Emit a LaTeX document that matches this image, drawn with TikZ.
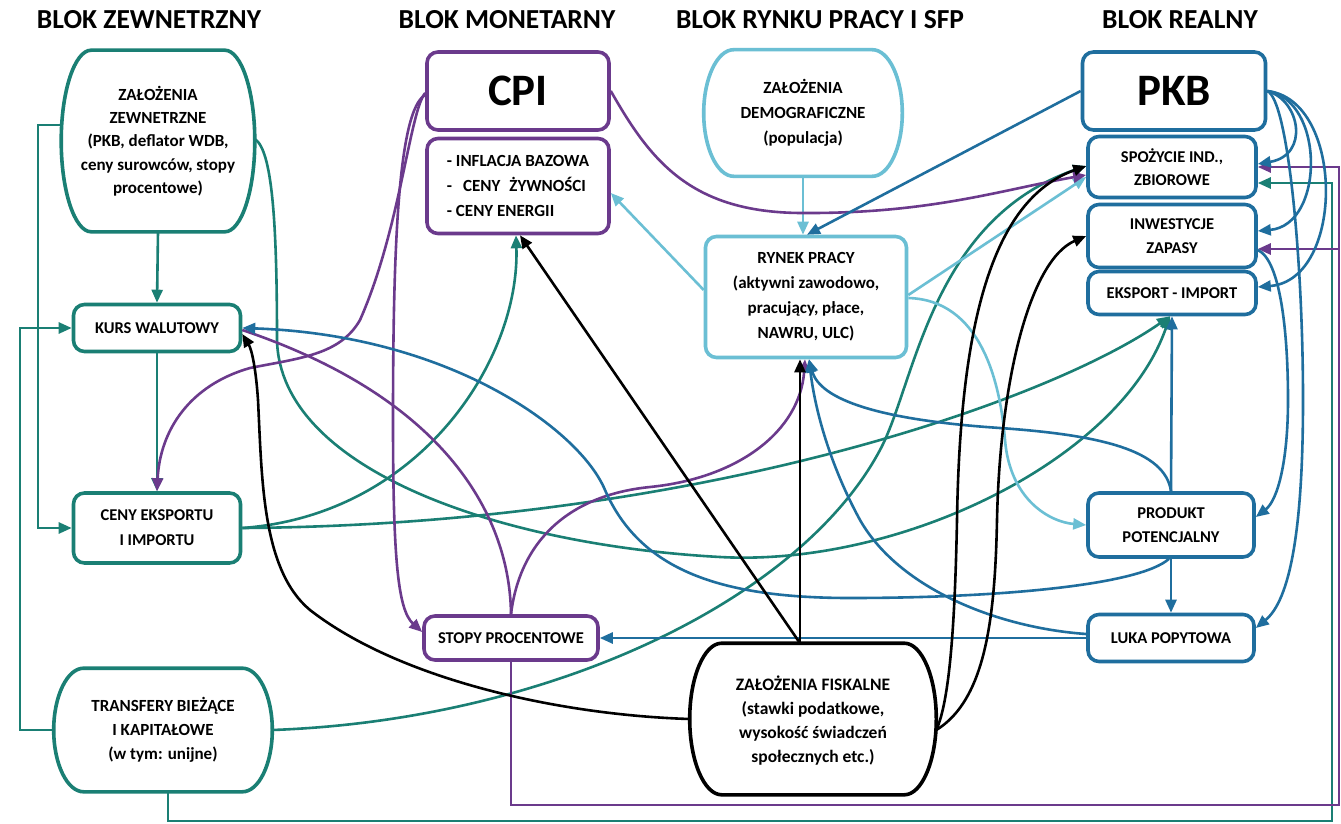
\documentclass[tikz,border=0pt]{standalone}
\usepackage{fontspec}
\setmainfont{Carlito}
\usetikzlibrary{arrows.meta,calc}
\definecolor{cteal}{HTML}{1A7F74}
\definecolor{cpurp}{HTML}{6B3A8C}
\definecolor{clight}{HTML}{6BBFD4}
\definecolor{cblue}{HTML}{1F6E9E}
\newcommand{\stadiumpath}[2]{%
 (#1.north) -- ($(#1.north east)+(-#2,0)$) .. controls ($(#1.north east)+(-0.45*#2,0)$) and ($(#1.east)!0.55!(#1.north east)$) .. (#1.east)
 .. controls ($(#1.east)!0.55!(#1.south east)$) and ($(#1.south east)+(-0.45*#2,0)$) .. ($(#1.south east)+(-#2,0)$)
 -- ($(#1.south west)+(#2,0)$) .. controls ($(#1.south west)+(0.45*#2,0)$) and ($(#1.west)!0.55!(#1.south west)$) .. (#1.west)
 .. controls ($(#1.west)!0.55!(#1.north west)$) and ($(#1.north west)+(0.45*#2,0)$) .. ($(#1.north west)+(#2,0)$) -- cycle}
\begin{document}
\begin{tikzpicture}[x=1pt,y=-1pt,
 box/.style={draw, line width=3.6pt, rounded corners=11pt, fill=white, align=center, inner sep=0pt, font=\fontsize{16.5}{23.5}\selectfont\bfseries},
 stad/.style={box, draw=none, fill=none, font=\fontsize{17}{24}\selectfont\bfseries},
 stadline/.style={line width=3.6pt, fill=white},
 hdr/.style={font=\fontsize{27.5}{30}\selectfont\bfseries, inner sep=0pt},
 bigtxt/.style={font=\fontsize{45}{48}\selectfont\bfseries},
 conn/.style={line width=2.6pt, -{Triangle[length=13pt,width=11pt]}},
 plain/.style={line width=2.6pt},
]
\fill[white] (0,0) rectangle (1341,824);
\useasboundingbox (0,0) rectangle (1341,824);

% headers
\node[hdr] (h1) at (149,20) {BLOK ZEWNETRZNY};
\node[hdr] (h2) at (507,20) {BLOK MONETARNY};
\node[hdr] (h3) at (820,20) {BLOK RYNKU PRACY I SFP};
\node[hdr] (h4) at (1180,20) {BLOK REALNY};

% external block
\node[stad, minimum width=190pt, minimum height=178pt] (zz) at (158,141) {};
\draw[stadline, draw=cteal] \stadiumpath{zz}{30};
\node[font=\fontsize{17}{23.3}\selectfont\bfseries, align=center] (zzt) at (zz.center) {ZAŁOŻENIA\\ZEWNETRZNE\\(PKB, deflator WDB,\\ceny surowców, stopy\\procentowe)};
\node[box, draw=cteal, minimum width=167pt, minimum height=47pt] (kurs) at (157,328) {KURS WALUTOWY};
\node[box, draw=cteal, minimum width=167pt, minimum height=70pt, font=\fontsize{16.5}{25}\selectfont\bfseries] (ceny) at (157,528) {CENY EKSPORTU\\I IMPORTU};
\node[stad, minimum width=215pt, minimum height=120pt] (tr) at (163,730) {};
\draw[stadline, draw=cteal] \stadiumpath{tr}{30};
\node[font=\fontsize{17}{24}\selectfont\bfseries, align=center] (trt) at (tr.center) {TRANSFERY BIEŻĄCE\\I KAPITAŁOWE\\(w tym: unijne)};

% monetary block
\node[box, draw=cpurp, minimum width=182pt, minimum height=78pt, bigtxt] (cpi) at (518,91) {CPI};
\node[box, draw=cpurp, minimum width=182pt, minimum height=95pt, align=left, font=\fontsize{17}{25}\selectfont\bfseries] (infl) at (518,186) {- INFLACJA BAZOWA\\-\hspace{11pt}CENY\hspace{9pt}ŻYWNOŚCI\\- CENY ENERGII};
\node[box, draw=cpurp, minimum width=174pt, minimum height=44pt] (stopy) at (511,638) {STOPY PROCENTOWE};

% labour market block
\node[stad, minimum width=195pt, minimum height=123pt] (demo) at (803,113) {};
\draw[stadline, draw=clight] \stadiumpath{demo}{30};
\node[font=\fontsize{17}{25}\selectfont\bfseries, align=center] (demot) at (demo.center) {ZAŁOŻENIA\\DEMOGRAFICZNE\\(populacja)};
\node[box, draw=clight, minimum width=201pt, minimum height=121pt, font=\fontsize{17}{25}\selectfont\bfseries] (rynek) at (806,297) {RYNEK PRACY\\(aktywni zawodowo,\\pracujący, płace,\\NAWRU, ULC)};
\node[stad, minimum width=243pt, minimum height=148pt] (fisk) at (813,719) {};
\draw[stadline, draw=black] \stadiumpath{fisk}{32};
\node[font=\fontsize{17.5}{24}\selectfont\bfseries, align=center] (fiskt) at ([yshift=-2pt]fisk.center) {ZAŁOŻENIA FISKALNE\\(stawki podatkowe,\\wysokość świadczeń\\społecznych etc.)};

% real block
\node[box, draw=cblue, minimum width=183pt, minimum height=78pt, bigtxt] (pkb) at (1174,91) {PKB};
\node[box, draw=cblue, minimum width=168pt, minimum height=61pt] (spoz) at (1172,167) {SPOŻYCIE IND.,\\ZBIOROWE};
\node[box, draw=cblue, minimum width=168pt, minimum height=63pt] (inw) at (1172,236) {INWESTYCJE\\ZAPASY};
\node[box, draw=cblue, minimum width=168pt, minimum height=43pt] (eksp) at (1172,293) {EKSPORT - IMPORT};
\node[box, draw=cblue, minimum width=166pt, minimum height=64pt] (prod) at (1171,525) {PRODUKT\\POTENCJALNY};
\node[box, draw=cblue, minimum width=166pt, minimum height=47pt] (luka) at (1171,638) {LUKA POPYTOWA};

\coordinate (pj) at (1339,249);

% ---- teal connectors
\draw[conn, cteal] (zz.south) -- (kurs.north);
\draw[conn, cteal] (kurs.south) -- (ceny.north);
\draw[conn, cteal] ([yshift=16pt]zz.west) -- (38,125) |- (ceny.west);
\draw[conn, cteal] (tr.west) -- (20,730) |- (kurs.west);
\draw[conn, cteal] ([xshift=5pt]tr.south) -- (168,821) -- (1332,821) |- ([yshift=-16pt]spoz.east);
\draw[conn, cteal] ([yshift=2pt]zz.east) .. controls (272,150) and (277,220) .. (277,340) .. controls (280,470) and (500,545) .. (720,557) .. controls (900,567) and (1120,460) .. ([xshift=-2pt]eksp.south);
\draw[conn, cteal] (ceny.east) .. controls (700,525) and (1050,400) .. ([xshift=-2pt]eksp.south);
\draw[conn, cteal] (ceny.east) .. controls (420,515) and (520,360) .. ([xshift=-2pt]infl.south);
\draw[conn, cteal] (tr.east) .. controls (550,720) and (800,600) .. (880,450) .. controls (915,385) and (930,220) .. ([yshift=1pt]spoz.west);

% ---- light blue connectors
\draw[conn, clight] (demo.south) -- (demo.south |- rynek.north);
\draw[conn, clight] ([yshift=7pt]rynek.west) -- ([yshift=-7pt]infl.east);
\draw[conn, clight] ([yshift=2pt]rynek.east) -- ([yshift=-10pt]spoz.west);
\draw[conn, clight] ([yshift=-1pt]rynek.east) .. controls (980,300) and (1000,380) .. (1005,440) .. controls (1010,500) and (1050,522) .. (prod.west);

% ---- purple connectors
\draw[conn, cpurp] ([yshift=-2pt]cpi.west) .. controls (410,110) and (400,230) .. (360,320) .. controls (340,355) and (300,358) .. (250,368) .. controls (190,385) and (160,430) .. (ceny.north);
\draw[conn, cpurp] ([yshift=-4pt]cpi.west) .. controls (398,110) and (393,250) .. (393,420) .. controls (393,560) and (398,610) .. ([yshift=6pt]stopy.west);
\draw[conn, cpurp] (cpi.east) .. controls (650,160) and (690,212) .. (800,213) .. controls (930,214) and (1000,190) .. ([yshift=-8pt]spoz.west);
\draw[plain, cpurp] (stopy.north) .. controls (510,520) and (450,400) .. ([yshift=-2pt]kurs.east);
\draw[conn, cpurp] (stopy.north) .. controls (520,540) and (570,495) .. (650,487) .. controls (740,478) and (800,430) .. ([xshift=-1pt]rynek.south);
\draw[conn, cpurp] (stopy.south) |- (1339,805) |- (spoz.east);
\draw[conn, cpurp] (pj) -- ([yshift=-13pt]inw.east);

% ---- dark blue connectors
\draw[conn, cblue] (pkb.west) -- ([xshift=1pt]rynek.north);
\draw[conn, cblue] (pkb.east) .. controls (1300,100) and (1310,155) .. ([yshift=3pt]spoz.east);
\draw[conn, cblue] (pkb.east) .. controls (1325,100) and (1325,225) .. ([yshift=5pt]inw.east);
\draw[conn, cblue] (pkb.east) .. controls (1345,100) and (1345,280) .. ([yshift=6pt]eksp.east);
\draw[conn, cblue] (pkb.east) .. controls (1288,100) and (1303,260) .. (1303,400) .. controls (1303,530) and (1290,600) .. ([yshift=10pt]luka.east);
\draw[conn, cblue] ([yshift=-14pt]inw.east) .. controls (1280,260) and (1288,330) .. (1288,400) .. controls (1288,460) and (1278,500) .. ([yshift=8pt]prod.east);
\draw[conn, cblue] (prod.south) -- (luka.north);
\draw[conn, cblue] (prod.north) -- (eksp.south);
\draw[conn, cblue] (prod.north) .. controls (1165,450) and (1100,435) .. (1000,428) .. controls (880,420) and (820,400) .. ([xshift=3pt]rynek.south);
\draw[conn, cblue] (luka.west) -- (stopy.east);
\draw[conn, cblue] ([yshift=4pt]luka.west) .. controls (1000,628) and (900,590) .. (860,520) .. controls (830,465) and (815,410) .. ([xshift=3pt]rynek.south);
\draw[conn, cblue] ([xshift=-2pt]prod.south) .. controls (1140,585) and (1000,598) .. (850,598) .. controls (720,598) and (640,570) .. (605,490) .. controls (580,430) and (450,335) .. (kurs.east);

% ---- black connectors
\draw[conn, black] (fisk.west) .. controls (560,715) and (400,680) .. (310,610) .. controls (262,570) and (262,480) .. (258,400) .. controls (256,370) and (252,350) .. ([yshift=-6pt]kurs.east);
\draw[conn, black] ([xshift=-13pt]fisk.north) -- ([xshift=2pt]infl.south);
\draw[conn, black] ([xshift=-13pt]fisk.north) -- ([xshift=-6pt]rynek.south);
\draw[conn, black] ([yshift=-11pt]fisk.east) .. controls (950,700) and (955,620) .. (957,520) .. controls (960,330) and (990,200) .. ([yshift=1pt]spoz.west);
\draw[conn, black] ([yshift=-11pt]fisk.east) .. controls (985,700) and (995,620) .. (997,520) .. controls (1000,380) and (1030,260) .. (inw.west);
\end{tikzpicture}
\end{document}
